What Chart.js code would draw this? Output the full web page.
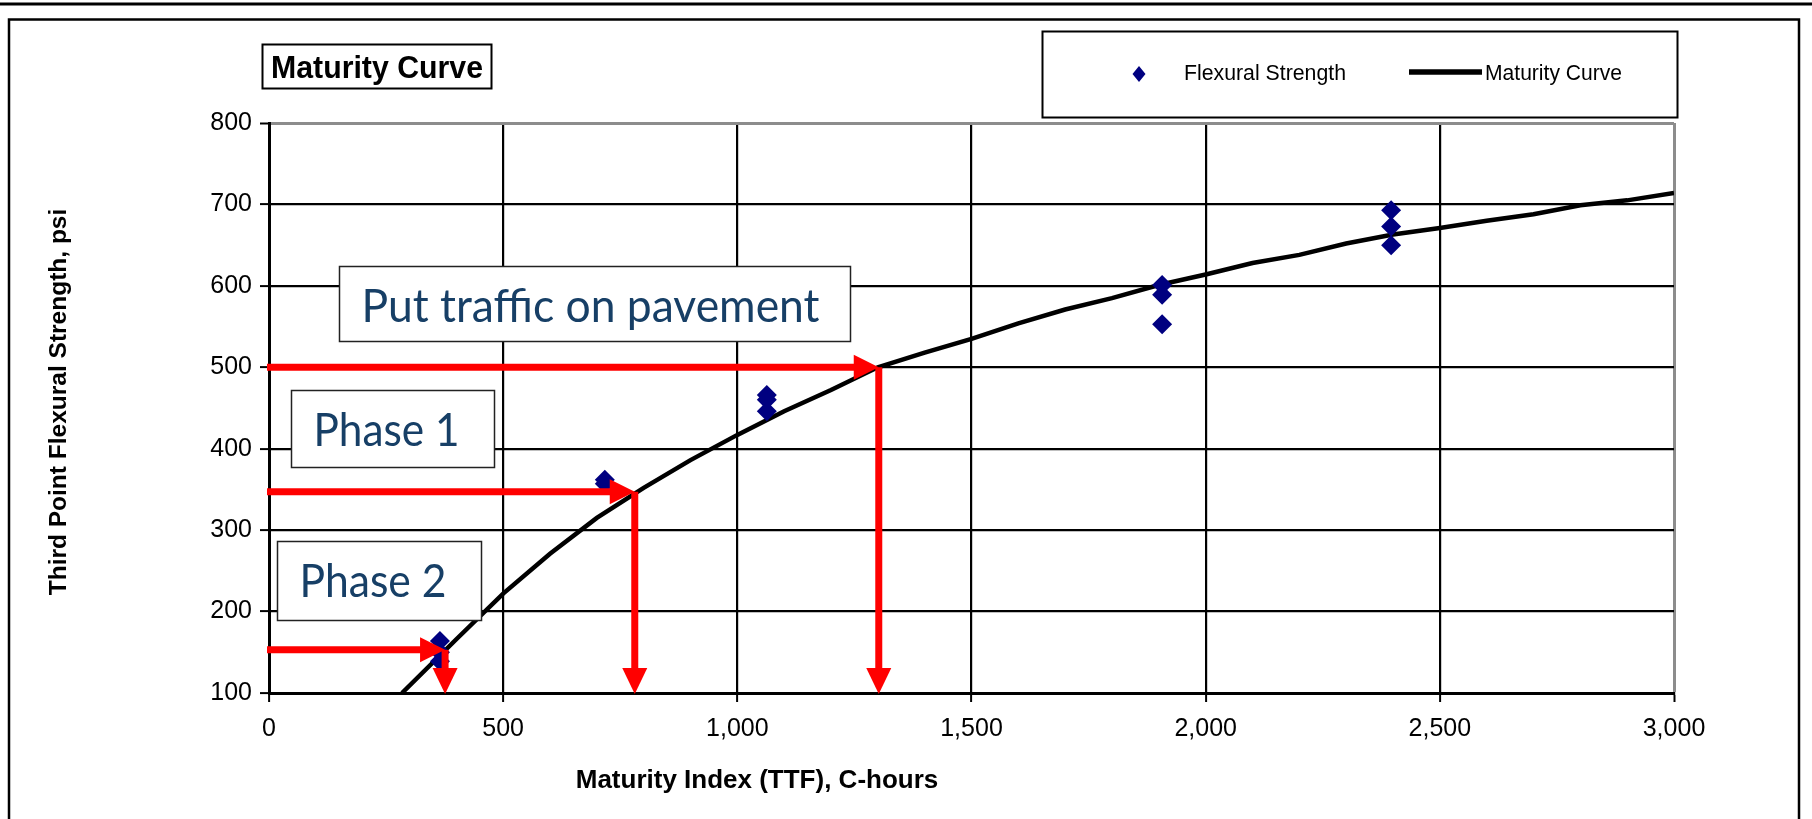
<!DOCTYPE html>
<html>
<head>
<meta charset="utf-8">
<script src="https://cdn.jsdelivr.net/npm/chart.js@4.4.1/dist/chart.umd.min.js"></script>
<style>
html,body{margin:0;padding:0;background:#ffffff;}
canvas{display:block;}
</style>
</head>
<body>
<canvas id="c" width="1812" height="819"></canvas>
<script>
// ---- data ----
const curveX = [284, 400, 500, 600, 700, 800, 900, 1000, 1100, 1200, 1300, 1400, 1500, 1600, 1700, 1800, 1900, 2000, 2100, 2200, 2300, 2400, 2500, 2600, 2700, 2800, 2900, 3000];
const curveY = [100, 166, 222, 271, 315, 352, 386, 417, 446, 472, 500, 518, 535, 554, 571, 585, 601, 614, 628, 638, 652, 663, 671, 680, 688, 699, 705, 714];
const strengthX = [365, 365, 365, 717, 717, 1063, 1063, 1063, 1907, 1907, 1907, 2396, 2396, 2396];
const strengthY = [164, 150, 139, 362, 357, 466, 460, 446, 601, 589, 553, 693, 673, 650];
const xTicks = [0, 500, 1000, 1500, 2000, 2500, 3000];
const yTicks = [100, 200, 300, 400, 500, 600, 700, 800];
const arrowStrength = [500, 347, 153];   // psi level of each red arrow
const arrowMaturity = [1302, 781, 376];  // C-hours where it meets the curve
const noteLabels = ['Put traffic on pavement', 'Phase 1', 'Phase 2'];
const seriesNames = ['Flexural Strength', 'Maturity Curve'];
const chartTitle = 'Maturity Curve';
const xTitle = 'Maturity Index (TTF), C-hours';
const yTitle = 'Third Point Flexural Strength, psi';

// ---- layout / style (not data) ----
const NAVY = '#000080';
const RED = '#ff0000';
const NOTE_BLUE = '#173f66';
const noteBoxes = [ // in data units: x from/to, psi top/bottom
  {x0: 150, x1: 1240, top: 624, bottom: 532, textW: 458},
  {x0: 46, x1: 481, top: 472, bottom: 377, textW: 146},
  {x0: 17, x1: 453, top: 287, bottom: 190, textW: 147}
];

Chart.defaults.font.family = "'Liberation Sans', Arial, sans-serif";
Chart.defaults.color = '#000';

function fitText(ctx, text, x, y, targetW) {
  const w = ctx.measureText(text).width;
  const s = targetW ? targetW / w : 1;
  ctx.save();
  ctx.translate(x, y);
  ctx.scale(s, 1);
  ctx.fillText(text, 0, 0);
  ctx.restore();
}

const decor = {
  id: 'decor',
  beforeDraw(chart) {
    const ctx = chart.ctx;
    ctx.save();
    ctx.fillStyle = '#fff';
    ctx.fillRect(0, 0, chart.width, chart.height);
    ctx.strokeStyle = '#000';
    ctx.lineWidth = 3;
    ctx.beginPath(); ctx.moveTo(0, 4); ctx.lineTo(chart.width, 4); ctx.stroke();
    ctx.lineWidth = 2.5;
    ctx.strokeRect(9, 19.5, 1790, 850);
    ctx.restore();
  },
  afterDatasetsDraw(chart) {
    const ctx = chart.ctx;
    const xs = chart.scales.x, ys = chart.scales.y;
    const yBase = ys.getPixelForValue(100);
    const x0 = xs.getPixelForValue(0) - 2;
    const lw = 7, hl = 25, hw = 25;
    ctx.save();
    ctx.strokeStyle = RED; ctx.fillStyle = RED; ctx.lineWidth = lw; ctx.lineCap = 'butt';
    for (let i = 0; i < arrowStrength.length; i++) {
      const px = xs.getPixelForValue(arrowMaturity[i]);
      const py = ys.getPixelForValue(arrowStrength[i]);
      // horizontal
      ctx.beginPath(); ctx.moveTo(x0, py); ctx.lineTo(px - hl + 2, py); ctx.stroke();
      ctx.beginPath(); ctx.moveTo(px, py); ctx.lineTo(px - hl, py - hw / 2); ctx.lineTo(px - hl, py + hw / 2); ctx.closePath(); ctx.fill();
      // vertical
      ctx.beginPath(); ctx.moveTo(px, py); ctx.lineTo(px, yBase - hl + 2); ctx.stroke();
      ctx.beginPath(); ctx.moveTo(px, yBase + 1); ctx.lineTo(px - hw / 2, yBase - hl); ctx.lineTo(px + hw / 2, yBase - hl); ctx.closePath(); ctx.fill();
    }
    // note boxes
    for (let i = 0; i < noteBoxes.length; i++) {
      const b = noteBoxes[i];
      const L = Math.round(xs.getPixelForValue(b.x0)) + 0.5, R = Math.round(xs.getPixelForValue(b.x1)) + 0.5;
      const T = Math.round(ys.getPixelForValue(b.top)) + 0.5, B = Math.round(ys.getPixelForValue(b.bottom)) + 0.5;
      ctx.fillStyle = '#fff';
      ctx.fillRect(L, T, R - L, B - T);
      ctx.strokeStyle = '#222'; ctx.lineWidth = 1.5;
      ctx.strokeRect(L, T, R - L, B - T);
      ctx.fillStyle = NOTE_BLUE;
      ctx.font = "46px Lato, 'Open Sans', sans-serif";
      ctx.textBaseline = 'alphabetic'; ctx.textAlign = 'left';
      fitText(ctx, noteLabels[i], L + 22, T + 55, b.textW);
    }
    ctx.restore();
  },
  afterDraw(chart) {
    const ctx = chart.ctx;
    ctx.save();
    // chart title box
    ctx.fillStyle = '#fff';
    ctx.fillRect(262.5, 44.5, 229, 44);
    ctx.strokeStyle = '#000'; ctx.lineWidth = 2;
    ctx.strokeRect(262.5, 44.5, 229, 44);
    ctx.fillStyle = '#000';
    ctx.font = "bold 31px 'Liberation Sans', Arial, sans-serif";
    ctx.textBaseline = 'alphabetic'; ctx.textAlign = 'left';
    fitText(ctx, chartTitle, 271, 78, 212);

    // legend box
    ctx.fillStyle = '#fff';
    ctx.fillRect(1042.5, 31.5, 635, 86);
    ctx.strokeStyle = '#000'; ctx.lineWidth = 2;
    ctx.strokeRect(1042.5, 31.5, 635, 86);
    // diamond
    ctx.fillStyle = NAVY;
    ctx.beginPath();
    ctx.moveTo(1139, 66); ctx.lineTo(1145.5, 74); ctx.lineTo(1139, 82); ctx.lineTo(1132.5, 74); ctx.closePath(); ctx.fill();
    ctx.fillStyle = '#000';
    ctx.font = "22px 'Liberation Sans', Arial, sans-serif";
    ctx.textBaseline = 'alphabetic';
    fitText(ctx, seriesNames[0], 1184, 80, 162);
    ctx.strokeStyle = '#000'; ctx.lineWidth = 5.5;
    ctx.beginPath(); ctx.moveTo(1409, 72); ctx.lineTo(1482, 72); ctx.stroke();
    fitText(ctx, seriesNames[1], 1485, 80, 137);

    // axis titles
    ctx.font = "bold 26px 'Liberation Sans', Arial, sans-serif";
    ctx.textAlign = 'center'; ctx.textBaseline = 'middle';
    ctx.fillText(xTitle, 757, 781);
    ctx.save();
    ctx.translate(59, 402);
    ctx.rotate(-Math.PI / 2);
    ctx.font = "bold 24.5px 'Liberation Sans', Arial, sans-serif";
    ctx.fillText(yTitle, 0, 0);
    ctx.restore();
    ctx.restore();
  }
};

const fmt = v => Number(v).toLocaleString('en-US');

new Chart(document.getElementById('c'), {
  type: 'scatter',
  data: {
    datasets: [
      {
        label: seriesNames[0],
        data: strengthX.map((x, i) => ({x: x, y: strengthY[i]})),
        pointStyle: 'rectRot',
        pointRadius: 10,
        pointHoverRadius: 10,
        backgroundColor: NAVY,
        borderColor: NAVY,
        borderWidth: 0,
        showLine: false
      },
      {
        label: seriesNames[1],
        data: curveX.map((x, i) => ({x: x, y: curveY[i]})),
        showLine: true,
        borderColor: '#000',
        borderWidth: 4.5,
        pointRadius: 0,
        pointHoverRadius: 0,
        tension: 0,
        fill: false
      }
    ]
  },
  options: {
    responsive: false,
    animation: false,
    devicePixelRatio: 1,
    layout: {padding: {left: 0, top: 123, right: 138, bottom: 0}},
    plugins: {legend: {display: false}, tooltip: {enabled: false}, title: {display: false}},
    scales: {
      x: {
        type: 'linear', min: 0, max: 3000,
        afterBuildTicks: s => { s.ticks = xTicks.map(v => ({value: v})); },
        afterFit: s => { s.height = 126; },
        ticks: {callback: fmt, font: {size: 25}, color: '#000', padding: 12, maxRotation: 0, autoSkip: false},
        grid: {
          color: c => (c.tick && c.tick.value === 3000) ? '#8c8c8c' : '#000',
          lineWidth: c => (c.tick && c.tick.value === 3000) ? 3 : 2.2,
          tickLength: 9, tickColor: '#000', tickWidth: 2
        },
        border: {display: true, color: '#000', width: 3}
      },
      y: {
        type: 'linear', min: 100, max: 800,
        afterBuildTicks: s => { s.ticks = yTicks.map(v => ({value: v})); },
        afterFit: s => { s.width = 269; },
        ticks: {callback: fmt, font: {size: 25}, color: '#000', padding: 8, autoSkip: false},
        grid: {
          color: c => (c.tick && c.tick.value === 800) ? '#8c8c8c' : '#000',
          lineWidth: c => (c.tick && c.tick.value === 800) ? 3 : 2.2,
          tickLength: 9, tickColor: '#000', tickWidth: 2
        },
        border: {display: true, color: '#000', width: 3}
      }
    }
  },
  plugins: [decor]
});
</script>
</body>
</html>
